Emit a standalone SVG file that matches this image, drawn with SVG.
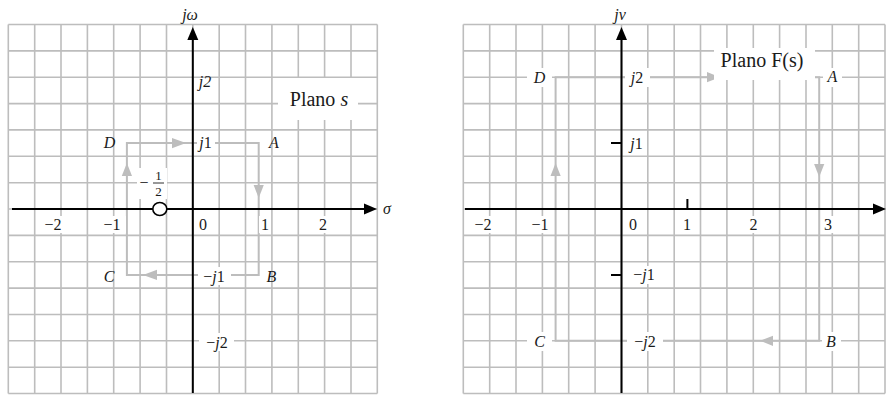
<svg xmlns="http://www.w3.org/2000/svg" width="893" height="396" viewBox="0 0 893 396">
<style>
.grid{fill:none;stroke:#bdbdbd;stroke-width:1.6}
.axis{fill:none;stroke:#000;stroke-width:2}
.ah{fill:#000}
.ct{fill:none;stroke:#bdbdbd;stroke-width:2}
.ca{fill:#bdbdbd}
.bg{fill:#fff}
text{font-family:"Liberation Serif","Times New Roman",serif;font-size:16px;fill:#1a1a1a}
.it{font-style:italic}
.m{text-anchor:middle}
.big{font-size:20px}
.sm{font-size:13px}
</style>
<rect width="893" height="396" fill="#fff"/>

<g id="plane-s">
<path class="grid" d="M8.3 24.5V393.5M34.7 24.5V393.5M61 24.5V393.5M87.4 24.5V393.5M113.7 24.5V393.5M140.1 24.5V393.5M166.5 24.5V393.5M192.8 24.5V393.5M219.2 24.5V393.5M245.5 24.5V393.5M271.9 24.5V393.5M298.3 24.5V393.5M324.6 24.5V393.5M351 24.5V393.5M377.3 24.5V393.5M8.3 24.5H377.3M8.3 50.9H377.3M8.3 77.2H377.3M8.3 103.6H377.3M8.3 129.9H377.3M8.3 156.3H377.3M8.3 182.7H377.3M8.3 209H377.3M8.3 235.4H377.3M8.3 261.7H377.3M8.3 288.1H377.3M8.3 314.5H377.3M8.3 340.8H377.3M8.3 367.2H377.3M8.3 393.5H377.3"/>
<rect class="bg" x="278" y="78" width="80" height="42"/>
<path class="ct" d="M126.9 143.1H258.7V274.9H126.9Z"/>
<polygon class="ca" points="186,143.1 172,138 172,148.2"/>
<polygon class="ca" points="258.7,198 253.6,185 263.8,185"/>
<polygon class="ca" points="143,274.9 157,269.8 157,280"/>
<polygon class="ca" points="126.9,163 121.8,176 132,176"/>
<path class="axis" d="M12 209H368M192.8 393V38"/>
<polygon class="ah" points="377,209 364,203.5 364,214.5"/>
<polygon class="ah" points="192.8,27 187.3,40 198.3,40"/>
<ellipse cx="159.8" cy="209" rx="7" ry="6.5" fill="#fff" stroke="#000" stroke-width="1.6"/>
<rect class="bg" x="137" y="168" width="30" height="31"/>
<text x="144" y="188" class="m">−</text>
<text x="158.5" y="180" class="m sm">1</text>
<line x1="153" y1="183" x2="164" y2="183" stroke="#1a1a1a" stroke-width="0.9"/>
<text x="158.5" y="196" class="m sm">2</text>
<rect class="bg" x="197" y="135" width="18" height="17"/>
<rect class="bg" x="198" y="267" width="33" height="18"/>
<rect class="bg" x="199" y="333" width="35" height="18"/>
<rect class="bg" x="40" y="216" width="28" height="17"/>
<rect class="bg" x="99" y="216" width="27" height="17"/>
<rect class="bg" x="197" y="216" width="13" height="17"/>
<rect class="bg" x="259" y="216" width="12" height="17"/>
<rect class="bg" x="316" y="216" width="14" height="17"/>
<text x="190" y="20" class="m it">jω</text>
<text x="383" y="214" class="it">σ</text>
<text x="205" y="87" class="m it">j2</text>
<text x="205.5" y="148" class="m"><tspan class="it">j</tspan>1</text>
<text x="214" y="282" class="m">−<tspan class="it">j</tspan>1</text>
<text x="217" y="348" class="m">−<tspan class="it">j</tspan>2</text>
<text x="109.5" y="148" class="m it">D</text>
<text x="274" y="148" class="m it">A</text>
<text x="109" y="282" class="m it">C</text>
<text x="271.5" y="282" class="m it">B</text>
<text x="53" y="230" class="m">−2</text>
<text x="112" y="230" class="m">−1</text>
<text x="203" y="230" class="m">0</text>
<text x="265" y="230" class="m">1</text>
<text x="323" y="230" class="m">2</text>
<text x="319" y="106" class="m big">Plano <tspan class="it">s</tspan></text>
</g>

<g id="plane-F">
<path class="grid" d="M463.3 24.5V393.5M489.7 24.5V393.5M516 24.5V393.5M542.4 24.5V393.5M568.7 24.5V393.5M595.1 24.5V393.5M621.5 24.5V393.5M647.8 24.5V393.5M674.2 24.5V393.5M700.5 24.5V393.5M726.9 24.5V393.5M753.3 24.5V393.5M779.6 24.5V393.5M806 24.5V393.5M832.3 24.5V393.5M858.7 24.5V393.5M885 24.5V393.5M463.3 24.5H885M463.3 50.9H885M463.3 77.2H885M463.3 103.6H885M463.3 129.9H885M463.3 156.3H885M463.3 182.7H885M463.3 209H885M463.3 235.4H885M463.3 261.7H885M463.3 288.1H885M463.3 314.5H885M463.3 340.8H885M463.3 367.2H885M463.3 393.5H885"/>
<path class="ct" d="M555.6 77.2H819.2V340.8H555.6Z"/>
<polygon class="ca" points="720,77.2 707,72.1 707,82.3"/>
<polygon class="ca" points="819.2,177 814.1,164 824.3,164"/>
<polygon class="ca" points="760,340.8 773,335.7 773,345.9"/>
<polygon class="ca" points="555.6,163 550.5,176 560.7,176"/>
<rect class="bg" x="714" y="48" width="101" height="32"/>
<path class="axis" d="M465 209H876M621.5 393V38M687.4 199V209M611 143.1H621.5M611 274.9H621.5"/>
<polygon class="ah" points="886,209 873,203.5 873,214.5"/>
<polygon class="ah" points="621.5,27 616,40 627,40"/>
<rect class="bg" x="527" y="68" width="25" height="19"/>
<rect class="bg" x="823" y="68" width="19" height="19"/>
<rect class="bg" x="527" y="332" width="25" height="19"/>
<rect class="bg" x="822" y="332" width="19" height="19"/>
<rect class="bg" x="625" y="68" width="25" height="19"/>
<rect class="bg" x="626" y="134" width="21" height="19"/>
<rect class="bg" x="627" y="266" width="34" height="18"/>
<rect class="bg" x="627" y="332" width="36" height="19"/>
<rect class="bg" x="469" y="216" width="28" height="17"/>
<rect class="bg" x="526" y="216" width="27" height="17"/>
<rect class="bg" x="627" y="216" width="12" height="17"/>
<rect class="bg" x="681" y="216" width="12" height="17"/>
<rect class="bg" x="747" y="216" width="13" height="17"/>
<rect class="bg" x="822" y="216" width="12" height="17"/>
<text x="620" y="20" class="m it">jv</text>
<text x="637" y="83" class="m"><tspan class="it">j</tspan>2</text>
<text x="636.5" y="149" class="m"><tspan class="it">j</tspan>1</text>
<text x="644" y="280" class="m">−<tspan class="it">j</tspan>1</text>
<text x="645" y="347" class="m">−<tspan class="it">j</tspan>2</text>
<text x="539.5" y="83" class="m it">D</text>
<text x="832.5" y="82" class="m it">A</text>
<text x="539.5" y="347" class="m it">C</text>
<text x="831" y="347" class="m it">B</text>
<text x="483" y="230" class="m">−2</text>
<text x="540" y="230" class="m">−1</text>
<text x="633" y="230" class="m">0</text>
<text x="687" y="230" class="m">1</text>
<text x="753.5" y="230" class="m">2</text>
<text x="828" y="230" class="m">3</text>
<text x="762" y="67" class="m big">Plano F(s)</text>
</g>
</svg>
